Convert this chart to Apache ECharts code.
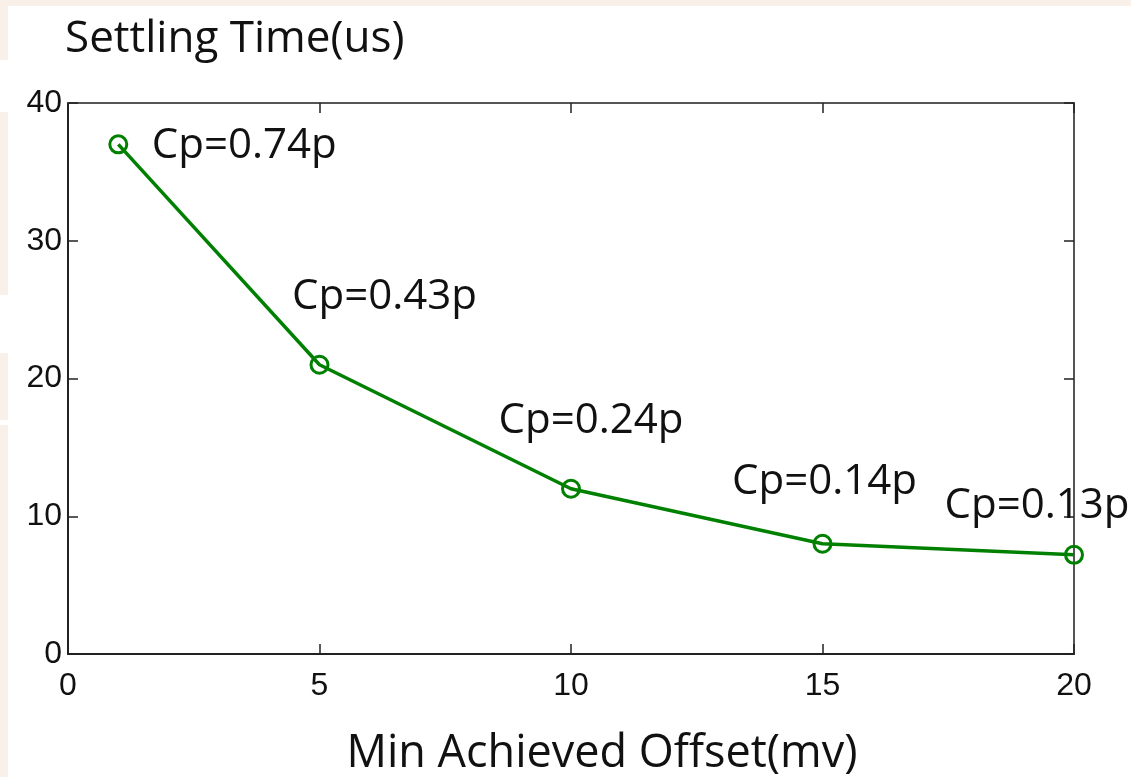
<!DOCTYPE html>
<html>
<head>
<meta charset="utf-8">
<script src="https://cdn.jsdelivr.net/npm/echarts@6/dist/echarts.min.js"></script>
<style>
  html, body { margin: 0; padding: 0; background: #fff; }
  #chart { width: 1131px; height: 777px; }
</style>
</head>
<body>
<div id="chart"></div>
<script>
// values
const offsets = [1, 5, 10, 15, 20];            // Min Achieved Offset (mv)
const settling = [37, 21, 12, 8, 7.2];          // Settling Time (us)
const capLabels = ['Cp=0.74p', 'Cp=0.43p', 'Cp=0.24p', 'Cp=0.14p', 'Cp=0.13p'];

// where each Cp label sits relative to its marker (style only)
const labelShift = [[126, 2], [65, -68], [20, -68], [2, -62], [-37, -49]];

const peach = '#f9f0ea';
const axisColor = '#222';
const green = '#008000';

const chart = echarts.init(document.getElementById('chart'));

const tickStyle = { show: true, inside: true, length: 10, lineStyle: { color: axisColor, width: 1.5 } };
const labelFont = { color: '#111', fontFamily: 'Liberation Sans', fontSize: 32 };

chart.setOption({
  backgroundColor: '#fff',
  animation: false,
  graphic: [
    { type: 'rect', left: 0, top: 0, shape: { width: 1131, height: 6 }, style: { fill: peach }, silent: true },
    { type: 'rect', left: 0, top: 0, shape: { width: 8, height: 60 }, style: { fill: peach }, silent: true },
    { type: 'rect', left: 0, top: 112, shape: { width: 8, height: 183 }, style: { fill: peach }, silent: true },
    { type: 'rect', left: 0, top: 353, shape: { width: 8, height: 67 }, style: { fill: peach }, silent: true },
    { type: 'rect', left: 0, top: 425, shape: { width: 8, height: 352 }, style: { fill: peach }, silent: true },
    {
      type: 'text', left: 65, top: 17,
      style: { text: 'Settling Time(us)', fill: '#111', font: '44px "Open Sans"' }
    }
  ],
  grid: { left: 68, right: 57, top: 103, bottom: 123, outerBoundsMode: 'none', containLabel: false },
  xAxis: [
    {
      type: 'value', min: 0, max: 20, interval: 5, position: 'bottom',
      name: 'Min Achieved Offset(mv)', nameLocation: 'middle', nameGap: 78,
      nameTextStyle: { color: '#111', fontFamily: 'Open Sans', fontSize: 45, padding: [0, 0, 0, 62] },
      axisLine: { show: true, lineStyle: { color: axisColor, width: 2 } },
      axisTick: tickStyle,
      axisLabel: Object.assign({ margin: 16 }, labelFont),
      splitLine: { show: false }
    },
    {
      type: 'value', min: 0, max: 20, interval: 5, position: 'top',
      axisLine: { show: true, onZero: false, lineStyle: { color: '#555', width: 2 } },
      axisTick: tickStyle,
      axisLabel: { show: false },
      splitLine: { show: false }
    }
  ],
  yAxis: [
    {
      type: 'value', min: 0, max: 40, interval: 10, position: 'left',
      axisLine: { show: true, lineStyle: { color: axisColor, width: 2 } },
      axisTick: tickStyle,
      axisLabel: Object.assign({ margin: 6 }, labelFont),
      splitLine: { show: false }
    },
    {
      type: 'value', min: 0, max: 40, interval: 10, position: 'right',
      axisLine: { show: true, onZero: false, lineStyle: { color: '#555', width: 2 } },
      axisTick: tickStyle,
      axisLabel: { show: false },
      splitLine: { show: false }
    }
  ],
  series: [{
    type: 'line',
    data: offsets.map((x, i) => ({
      value: [x, settling[i]],
      label: { offset: labelShift[i] }
    })),
    lineStyle: { color: green, width: 3.5 },
    symbol: 'circle',
    symbolSize: 17,
    itemStyle: { color: 'rgba(0,0,0,0)', borderColor: green, borderWidth: 3 },
    label: {
      show: true,
      position: 'inside',
      formatter: (p) => capLabels[p.dataIndex],
      color: '#111',
      fontFamily: 'Open Sans',
      fontSize: 42
    },
    z: 3
  }]
});
</script>
</body>
</html>
